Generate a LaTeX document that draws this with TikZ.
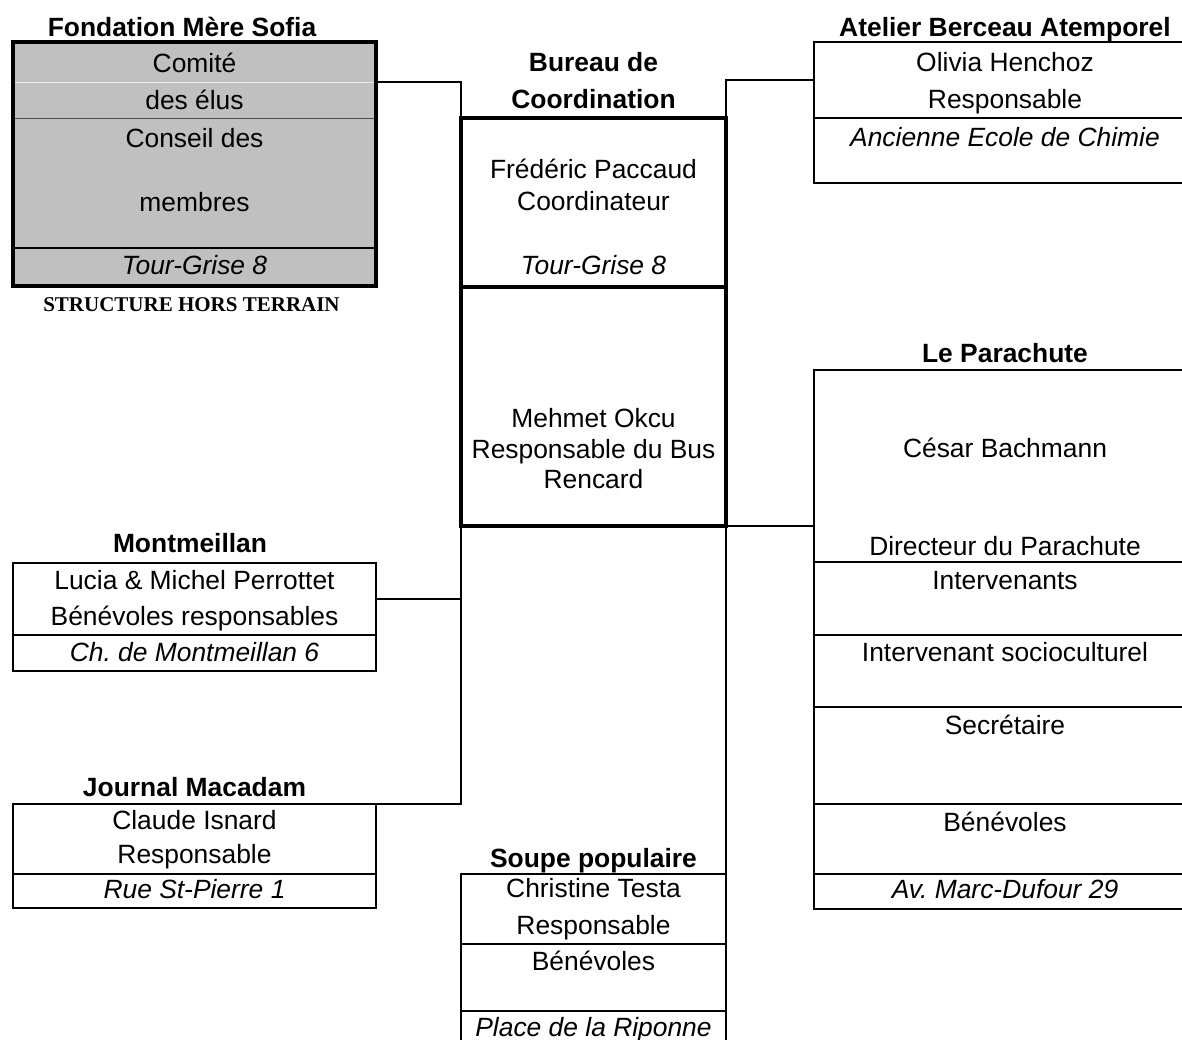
\documentclass[tikz,border=0pt]{standalone}
\usepackage{fontspec}
\setmainfont{Liberation Sans}
\newfontfamily\serifbf{Liberation Serif}
\usetikzlibrary{positioning,calc}
\definecolor{fmsgrey}{RGB}{192,192,192}
\newcommand\cellfont{\fontsize{13.2pt}{18pt}\selectfont}
\newcommand\titlefont{\fontsize{13.2pt}{18pt}\selectfont\bfseries}
% stacked centred lines, baseline on the first one
\newcommand\lines[2]{\vtop{\baselineskip=#1\relax\halign{\hfil##\hfil\cr#2\crcr}}}
\frenchspacing
\tikzset{
  cell/.style 2 args={rectangle, inner sep=0pt, outer sep=0pt, text height=#1, text depth=#2,
    anchor=north west, font=\cellfont},
  lcol/.style={minimum width=181.5pt},
  mcol/.style={minimum width=132.5pt},
  rcol/.style={minimum width=191pt},
  boxed/.style={draw, line width=1pt},
  heavy/.style={draw, line width=1.75pt},
  grey/.style={fill=fmsgrey},
  title/.style={font=\titlefont, inner sep=0pt, anchor=base},
  link/.style={draw, line width=1pt}
}

\begin{document}
\begin{tikzpicture}[x=0.5pt, y=-0.5pt]
	\useasboundingbox[fill=white] (0,0) rectangle (1182,1039);

	% Fondation Mere Sofia
	\node [cell={15.25pt}{4.75pt}, lcol, grey] (fms1) at (13,42) {Comité};
	\node [cell={13.75pt}{4.25pt}, lcol, grey] (fms2) at (fms1.south west) {des élus};
	\node [cell={14.75pt}{50.25pt}, lcol, grey] (fms3) at (fms2.south west) {\lines{32pt}{Conseil des\cr membres}};
	\node [cell={13.25pt}{5.75pt}, lcol, grey] (fms4) at (fms3.south west) {\textit{Tour-Grise 8}};
	\draw [gray!15] (fms1.south west) -- (fms1.south east);
	\draw [line width=0.5pt, gray!60!black] (fms2.south west) -- (fms2.south east);
	\draw [line width=1pt] (fms3.south west) -- (fms3.south east);
	\draw [line width=1.75pt] (fms1.north west) rectangle (fms4.south east);
	\node [title] (fmst) at ([xshift=-6.25pt, yshift=2.75pt]fms1.north) {Fondation Mère Sofia};
	\node [font={\serifbf\bfseries\fontsize{10.5pt}{12pt}\selectfont}, inner sep=0pt, anchor=base] (hors)
		at ([xshift=-1.5pt, yshift=-12.75pt]fms4.south) {STRUCTURE HORS TERRAIN};

	% Bureau de Coordination
	\node [cell={30.25pt}{54.25pt}, mcol, heavy] (bur1) at (461,118)
		{\lines{16pt}{Frédéric Paccaud\cr Coordinateur\cr\noalign{\vskip16pt}\textit{Tour-Grise 8}}};
	\node [cell={70.25pt}{49.25pt}, mcol, heavy] (bur2) at (bur1.south west)
		{\lines{15.25pt}{Mehmet Okcu\cr Responsable du Bus\cr Rencard}};
	\node [title] (burt) at ([yshift=23.25pt]bur1.north) {\lines{18.5pt}{Bureau de\cr Coordination}};

	% Atelier Berceau Atemporel
	\node [cell={14.75pt}{23.25pt}, rcol, boxed] (atl1) at (814,42) {\lines{18.5pt}{Olivia Henchoz\cr Responsable}};
	\node [cell={14.25pt}{18.25pt}, rcol, boxed] (atl2) at (atl1.south west) {\textit{Ancienne Ecole de Chimie}};
	\node [title] (atlt) at ([yshift=2.75pt]atl1.north) {Atelier Berceau Atemporel};

	% Le Parachute
	\node [cell={43.75pt}{52.25pt}, rcol, boxed] (par1) at (814,370) {\lines{49pt}{César Bachmann\cr Directeur du Parachute}};
	\node [cell={13.75pt}{22.75pt}, rcol, boxed] (par2) at (par1.south west) {Intervenants};
	\node [cell={13.25pt}{22.75pt}, rcol, boxed] (par3) at (par2.south west) {Intervenant socioculturel};
	\node [cell={13.75pt}{34.75pt}, rcol, boxed] (par4) at (par3.south west) {Secrétaire};
	\node [cell={13.75pt}{21.25pt}, rcol, boxed] (par5) at (par4.south west) {Bénévoles};
	\node [cell={12.25pt}{5.25pt}, rcol, boxed] (par6) at (par5.south west) {\textit{Av. Marc-Dufour 29}};
	\node [title] (part) at ([yshift=3.75pt]par1.north) {Le Parachute};

	% Montmeillan
	\node [cell={13.25pt}{22.75pt}, lcol, boxed] (mon1) at (13,563) {\lines{18pt}{Lucia \& Michel Perrottet\cr Bénévoles responsables}};
	\node [cell={13.25pt}{4.75pt}, lcol, boxed] (mon2) at (mon1.south west) {\textit{Ch. de Montmeillan 6}};
	\node [title] (mont) at ([xshift=-2.25pt, yshift=5.25pt]mon1.north) {Montmeillan};

	% Journal Macadam
	\node [cell={12.75pt}{22.25pt}, lcol, boxed] (jou1) at (13,804) {\lines{17pt}{Claude Isnard\cr Responsable}};
	\node [cell={12.25pt}{4.75pt}, lcol, boxed] (jou2) at (jou1.south west) {\textit{Rue St-Pierre 1}};
	\node [title] (jout) at ([yshift=3.75pt]jou1.north) {Journal Macadam};

	% Soupe populaire
	\node [cell={11.75pt}{23.25pt}, mcol, boxed] (sou1) at (461,874) {\lines{18.5pt}{Christine Testa\cr Responsable}};
	\node [cell={13.25pt}{20.25pt}, mcol, boxed] (sou2) at (sou1.south west) {Bénévoles};
	\node [cell={12.75pt}{6.75pt}, mcol, boxed] (sou3) at (sou2.south west) {\textit{Place de la Riponne}};
	\node [title] (sout) at ([yshift=3.25pt]sou1.north) {Soupe populaire};

	\draw [link] (fms1.south east) -| (bur1.north west);
	\draw [link] (bur1.north east) |- (atl1.west);
	\draw [link] (bur2.south east) -- (bur2.south east -| par1.west);
	\draw [link] (bur2.south east) -- (sou1.north east);
	\draw [link] (bur2.south west) |- (mon1.east);
	\draw [link] (bur2.south west) |- (jou1.north east);

\end{tikzpicture}
\end{document}
